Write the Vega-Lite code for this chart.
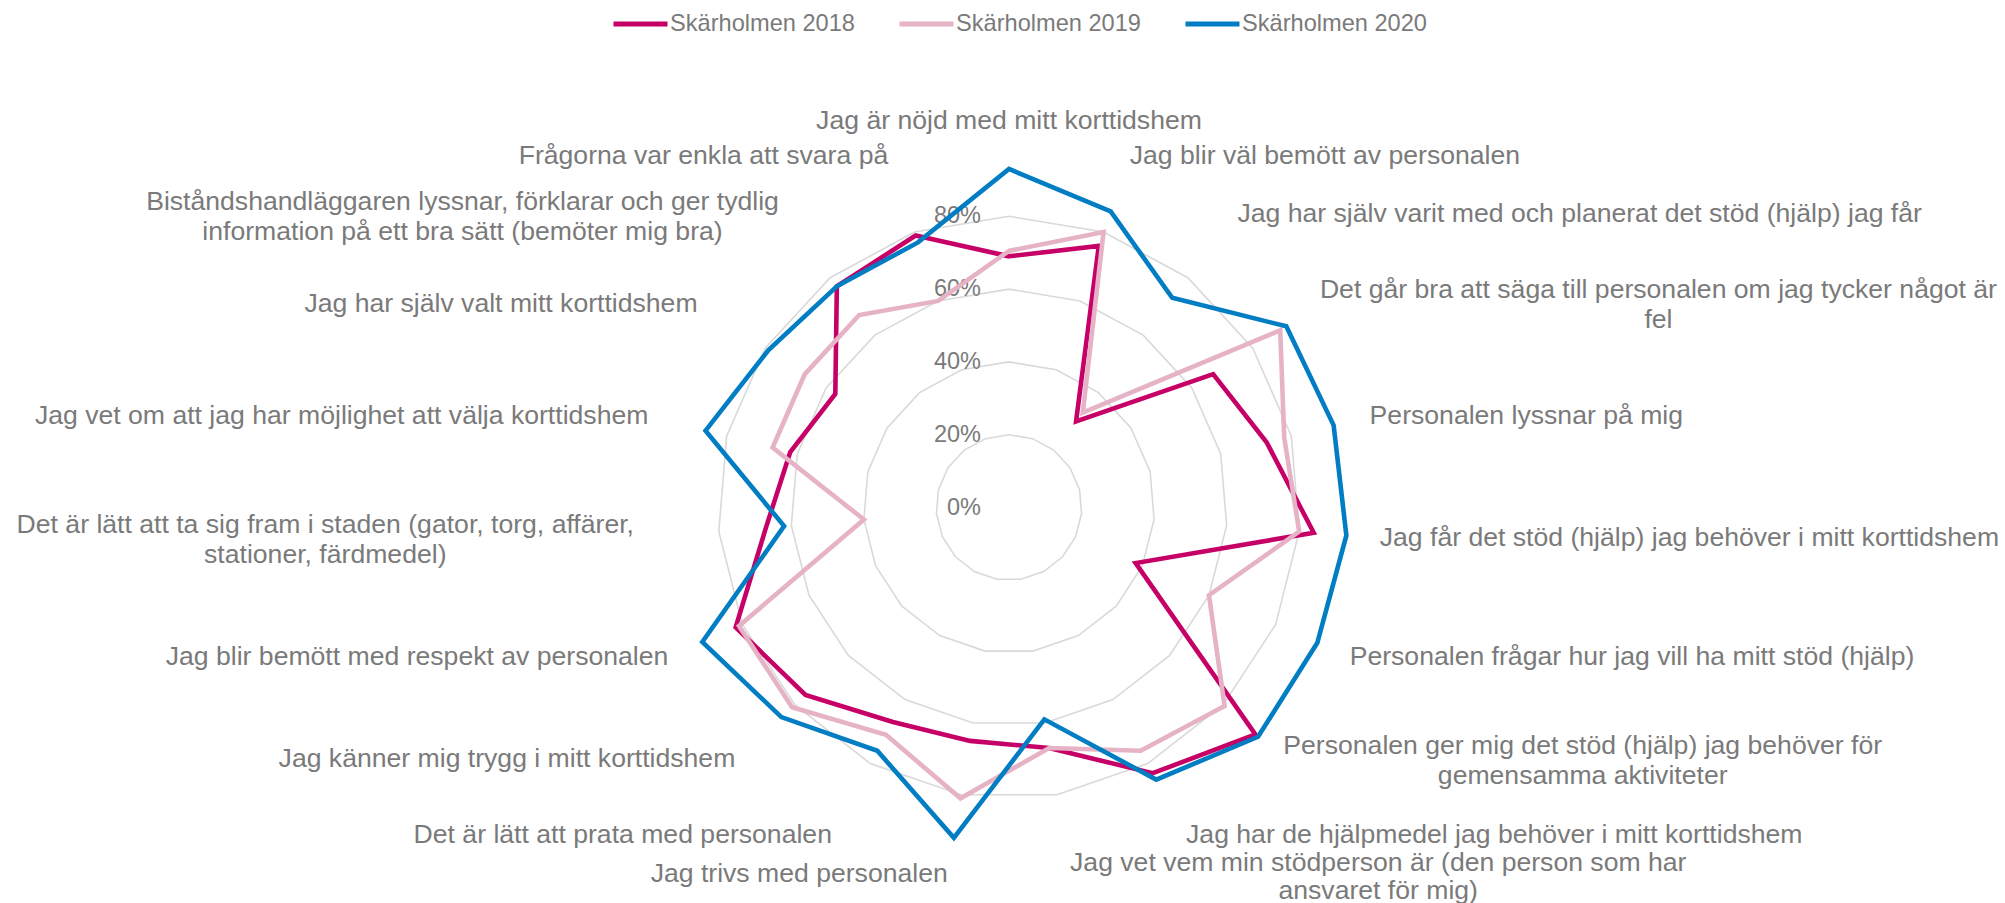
{
  "$schema": "https://vega.github.io/schema/vega-lite/v6.json",
  "width": 2005,
  "height": 903,
  "padding": 0,
  "autosize": {"type": "none"},
  "background": "white",
  "config": {"view": {"stroke": null}, "font": "Liberation Sans"},
  "datasets": {
    "scores": [
      {"k":0,"series":"Skärholmen 2018","value":69},{"k":1,"series":"Skärholmen 2018","value":76},{"k":2,"series":"Skärholmen 2018","value":30},{"k":3,"series":"Skärholmen 2018","value":67},{"k":4,"series":"Skärholmen 2018","value":73},{"k":5,"series":"Skärholmen 2018","value":84},{"k":6,"series":"Skärholmen 2018","value":38},{"k":7,"series":"Skärholmen 2018","value":92},{"k":8,"series":"Skärholmen 2018","value":83},{"k":9,"series":"Skärholmen 2018","value":67},{"k":10,"series":"Skärholmen 2018","value":65},{"k":11,"series":"Skärholmen 2018","value":67},{"k":12,"series":"Skärholmen 2018","value":76},{"k":13,"series":"Skärholmen 2018","value":82},{"k":14,"series":"Skärholmen 2018","value":67},{"k":15,"series":"Skärholmen 2018","value":62},{"k":16,"series":"Skärholmen 2018","value":57},{"k":17,"series":"Skärholmen 2018","value":77},{"k":18,"series":"Skärholmen 2018","value":79},
      {"k":0,"series":"Skärholmen 2019","value":70.5},{"k":1,"series":"Skärholmen 2019","value":80},{"k":2,"series":"Skärholmen 2019","value":33},{"k":3,"series":"Skärholmen 2019","value":89},{"k":4,"series":"Skärholmen 2019","value":78},{"k":5,"series":"Skärholmen 2019","value":80},{"k":6,"series":"Skärholmen 2019","value":60},{"k":7,"series":"Skärholmen 2019","value":80.5},{"k":8,"series":"Skärholmen 2019","value":76},{"k":9,"series":"Skärholmen 2019","value":67},{"k":10,"series":"Skärholmen 2019","value":81},{"k":11,"series":"Skärholmen 2019","value":71},{"k":12,"series":"Skärholmen 2019","value":81},{"k":13,"series":"Skärholmen 2019","value":81},{"k":14,"series":"Skärholmen 2019","value":40},{"k":15,"series":"Skärholmen 2019","value":67},{"k":16,"series":"Skärholmen 2019","value":67},{"k":17,"series":"Skärholmen 2019","value":67},{"k":18,"series":"Skärholmen 2019","value":60},
      {"k":0,"series":"Skärholmen 2020","value":93},{"k":1,"series":"Skärholmen 2020","value":86},{"k":2,"series":"Skärholmen 2020","value":73},{"k":3,"series":"Skärholmen 2020","value":91},{"k":4,"series":"Skärholmen 2020","value":92},{"k":5,"series":"Skärholmen 2020","value":93},{"k":6,"series":"Skärholmen 2020","value":92.5},{"k":7,"series":"Skärholmen 2020","value":93},{"k":8,"series":"Skärholmen 2020","value":85},{"k":9,"series":"Skärholmen 2020","value":59},{"k":10,"series":"Skärholmen 2020","value":92},{"k":11,"series":"Skärholmen 2020","value":76},{"k":12,"series":"Skärholmen 2020","value":85},{"k":13,"series":"Skärholmen 2020","value":92},{"k":14,"series":"Skärholmen 2020","value":62},{"k":15,"series":"Skärholmen 2020","value":86},{"k":16,"series":"Skärholmen 2020","value":79},{"k":17,"series":"Skärholmen 2020","value":77},{"k":18,"series":"Skärholmen 2020","value":77}
    ],
    "cats": [
      {"k":0,"label":"Jag är nöjd med mitt korttidshem"},
      {"k":1,"label":"Jag blir väl bemött av personalen"},
      {"k":2,"label":"Jag har själv varit med och planerat det stöd (hjälp) jag får"},
      {"k":3,"label":"Det går bra att säga till personalen om jag tycker något är\nfel"},
      {"k":4,"label":"Personalen lyssnar på mig"},
      {"k":5,"label":"Jag får det stöd (hjälp) jag behöver i mitt korttidshem"},
      {"k":6,"label":"Personalen frågar hur jag vill ha mitt stöd (hjälp)"},
      {"k":7,"label":"Personalen ger mig det stöd (hjälp) jag behöver för\ngemensamma aktiviteter"},
      {"k":8,"label":"Jag har de hjälpmedel jag behöver i mitt korttidshem"},
      {"k":9,"label":"Jag vet vem min stödperson är (den person som har\nansvaret för mig)"},
      {"k":10,"label":"Jag trivs med personalen"},
      {"k":11,"label":"Det är lätt att prata med personalen"},
      {"k":12,"label":"Jag känner mig trygg i mitt korttidshem"},
      {"k":13,"label":"Jag blir bemött med respekt av personalen"},
      {"k":14,"label":"Det är lätt att ta sig fram i staden (gator, torg, affärer,\nstationer, färdmedel)"},
      {"k":15,"label":"Jag vet om att jag har möjlighet att välja korttidshem"},
      {"k":16,"label":"Jag har själv valt mitt korttidshem"},
      {"k":17,"label":"Biståndshandläggaren lyssnar, förklarar och ger tydlig\ninformation på ett bra sätt (bemöter mig bra)"},
      {"k":18,"label":"Frågorna var enkla att svara på"}
    ],
    "grid": [
      {"ring":20,"k":0},{"ring":20,"k":1},{"ring":20,"k":2},{"ring":20,"k":3},{"ring":20,"k":4},{"ring":20,"k":5},{"ring":20,"k":6},{"ring":20,"k":7},{"ring":20,"k":8},{"ring":20,"k":9},{"ring":20,"k":10},{"ring":20,"k":11},{"ring":20,"k":12},{"ring":20,"k":13},{"ring":20,"k":14},{"ring":20,"k":15},{"ring":20,"k":16},{"ring":20,"k":17},{"ring":20,"k":18},
      {"ring":40,"k":0},{"ring":40,"k":1},{"ring":40,"k":2},{"ring":40,"k":3},{"ring":40,"k":4},{"ring":40,"k":5},{"ring":40,"k":6},{"ring":40,"k":7},{"ring":40,"k":8},{"ring":40,"k":9},{"ring":40,"k":10},{"ring":40,"k":11},{"ring":40,"k":12},{"ring":40,"k":13},{"ring":40,"k":14},{"ring":40,"k":15},{"ring":40,"k":16},{"ring":40,"k":17},{"ring":40,"k":18},
      {"ring":60,"k":0},{"ring":60,"k":1},{"ring":60,"k":2},{"ring":60,"k":3},{"ring":60,"k":4},{"ring":60,"k":5},{"ring":60,"k":6},{"ring":60,"k":7},{"ring":60,"k":8},{"ring":60,"k":9},{"ring":60,"k":10},{"ring":60,"k":11},{"ring":60,"k":12},{"ring":60,"k":13},{"ring":60,"k":14},{"ring":60,"k":15},{"ring":60,"k":16},{"ring":60,"k":17},{"ring":60,"k":18},
      {"ring":80,"k":0},{"ring":80,"k":1},{"ring":80,"k":2},{"ring":80,"k":3},{"ring":80,"k":4},{"ring":80,"k":5},{"ring":80,"k":6},{"ring":80,"k":7},{"ring":80,"k":8},{"ring":80,"k":9},{"ring":80,"k":10},{"ring":80,"k":11},{"ring":80,"k":12},{"ring":80,"k":13},{"ring":80,"k":14},{"ring":80,"k":15},{"ring":80,"k":16},{"ring":80,"k":17},{"ring":80,"k":18}
    ],
    "ticks": [
      {"ring":0,"text":"0%"},{"ring":20,"text":"20%"},{"ring":40,"text":"40%"},{"ring":60,"text":"60%"},{"ring":80,"text":"80%"}
    ]
  },
  "layer": [
    {
      "data": {"name": "grid"},
      "transform": [
        {"calculate": "datum.ring*sin(datum.k*2*PI/19)", "as": "x"},
        {"calculate": "datum.ring*cos(datum.k*2*PI/19)", "as": "y"}
      ],
      "mark": {"type": "line", "interpolate": "linear-closed", "stroke": "#d9d9d9", "strokeWidth": 1.6},
      "encoding": {
        "x": {"field": "x", "type": "quantitative", "scale": {"domain": [-277.2, 273.63], "nice": false, "zero": false}, "axis": null},
        "y": {"field": "y", "type": "quantitative", "scale": {"domain": [-108.65, 139.42], "nice": false, "zero": false}, "axis": null},
        "detail": {"field": "ring", "type": "nominal"},
        "order": {"field": "k", "type": "quantitative"}
      }
    },
    {
      "data": {"name": "ticks"},
      "mark": {"type": "text", "align": "right", "baseline": "middle", "dx": -28, "fontSize": 23.5, "fill": "#7a7a7a", "font": "Liberation Sans"},
      "encoding": {
        "x": {"datum": 0, "type": "quantitative", "scale": {"domain": [-277.2, 273.63], "nice": false, "zero": false}, "axis": null},
        "y": {"field": "ring", "type": "quantitative", "scale": {"domain": [-108.65, 139.42], "nice": false, "zero": false}, "axis": null},
        "text": {"field": "text"}
      }
    },
    {
      "data": {"name": "scores"},
      "transform": [
        {"calculate": "datum.value*sin(datum.k*2*PI/19)", "as": "x"},
        {"calculate": "datum.value*cos(datum.k*2*PI/19)", "as": "y"}
      ],
      "mark": {"type": "line", "interpolate": "linear-closed", "strokeWidth": 4.6},
      "encoding": {
        "x": {"field": "x", "type": "quantitative", "scale": {"domain": [-277.2, 273.63], "nice": false, "zero": false}, "axis": null},
        "y": {"field": "y", "type": "quantitative", "scale": {"domain": [-108.65, 139.42], "nice": false, "zero": false}, "axis": null},
        "order": {"field": "k", "type": "quantitative"},
        "color": {
          "field": "series", "type": "nominal",
          "scale": {"domain": ["Skärholmen 2018", "Skärholmen 2019", "Skärholmen 2020"], "range": ["#c60066", "#e6b2c5", "#007dc3"]},
          "legend": {
            "orient": "none", "legendX": 611, "legendY": -6, "direction": "horizontal", "title": null,
            "symbolType": "stroke", "symbolSize": 2916, "symbolStrokeWidth": 5,
            "labelFontSize": 23.6, "labelFont": "Liberation Sans", "labelColor": "#7a7a7a", "labelLimit": 0,
            "labelOffset": 0, "columnPadding": 34, "padding": 0
          }
        }
      }
    },
    {
      "data": {"name": "cats"},
      "transform": [
        {"filter": "datum.k == 0"},
        {"calculate": "102.2*sin(datum.k*2*PI/19)", "as": "lx"},
        {"calculate": "102.2*cos(datum.k*2*PI/19)", "as": "ly"}
      ],
      "mark": {"type": "text", "align": "center", "baseline": "bottom", "fontSize": 26.6, "fill": "#7a7a7a", "font": "Liberation Sans", "lineBreak": "\n", "lineHeight": 30},
      "encoding": {
        "x": {"field": "lx", "type": "quantitative", "scale": {"domain": [-277.2, 273.63], "nice": false, "zero": false}, "axis": null},
        "y": {"field": "ly", "type": "quantitative", "scale": {"domain": [-108.65, 139.42], "nice": false, "zero": false}, "axis": null},
        "text": {"field": "label"}
      }
    },
    {
      "data": {"name": "cats"},
      "transform": [
        {"filter": "indexof([1,2,4,5,6,8], datum.k) >= 0"},
        {"calculate": "102.2*sin(datum.k*2*PI/19)", "as": "lx"},
        {"calculate": "102.2*cos(datum.k*2*PI/19)", "as": "ly"}
      ],
      "mark": {"type": "text", "align": "left", "baseline": "middle", "fontSize": 26.6, "fill": "#7a7a7a", "font": "Liberation Sans", "lineBreak": "\n", "lineHeight": 30},
      "encoding": {
        "x": {"field": "lx", "type": "quantitative", "scale": {"domain": [-277.2, 273.63], "nice": false, "zero": false}, "axis": null},
        "y": {"field": "ly", "type": "quantitative", "scale": {"domain": [-108.65, 139.42], "nice": false, "zero": false}, "axis": null},
        "text": {"field": "label"}
      }
    },
    {
      "data": {"name": "cats"},
      "transform": [
        {"filter": "indexof([10,11,12,13,15,16,18], datum.k) >= 0"},
        {"calculate": "102.2*sin(datum.k*2*PI/19)", "as": "lx"},
        {"calculate": "102.2*cos(datum.k*2*PI/19)", "as": "ly"}
      ],
      "mark": {"type": "text", "align": "right", "baseline": "middle", "fontSize": 26.6, "fill": "#7a7a7a", "font": "Liberation Sans", "lineBreak": "\n", "lineHeight": 30},
      "encoding": {
        "x": {"field": "lx", "type": "quantitative", "scale": {"domain": [-277.2, 273.63], "nice": false, "zero": false}, "axis": null},
        "y": {"field": "ly", "type": "quantitative", "scale": {"domain": [-108.65, 139.42], "nice": false, "zero": false}, "axis": null},
        "text": {"field": "label"}
      }
    },
    {
      "data": {"name": "cats"},
      "transform": [
        {"filter": "datum.k == 3"},
        {"calculate": "102.2*sin(datum.k*2*PI/19)", "as": "lx"},
        {"calculate": "102.2*cos(datum.k*2*PI/19)", "as": "ly"}
      ],
      "mark": {"type": "text", "align": "center", "baseline": "middle", "dx": 338, "dy": -14, "fontSize": 26.6, "fill": "#7a7a7a", "font": "Liberation Sans", "lineBreak": "\n", "lineHeight": 30},
      "encoding": {
        "x": {"field": "lx", "type": "quantitative", "scale": {"domain": [-277.2, 273.63], "nice": false, "zero": false}, "axis": null},
        "y": {"field": "ly", "type": "quantitative", "scale": {"domain": [-108.65, 139.42], "nice": false, "zero": false}, "axis": null},
        "text": {"field": "label"}
      }
    },
    {
      "data": {"name": "cats"},
      "transform": [
        {"filter": "datum.k == 7"},
        {"calculate": "102.2*sin(datum.k*2*PI/19)", "as": "lx"},
        {"calculate": "102.2*cos(datum.k*2*PI/19)", "as": "ly"}
      ],
      "mark": {"type": "text", "align": "center", "baseline": "middle", "dx": 300, "dy": -13, "fontSize": 26.6, "fill": "#7a7a7a", "font": "Liberation Sans", "lineBreak": "\n", "lineHeight": 30},
      "encoding": {
        "x": {"field": "lx", "type": "quantitative", "scale": {"domain": [-277.2, 273.63], "nice": false, "zero": false}, "axis": null},
        "y": {"field": "ly", "type": "quantitative", "scale": {"domain": [-108.65, 139.42], "nice": false, "zero": false}, "axis": null},
        "text": {"field": "label"}
      }
    },
    {
      "data": {"name": "cats"},
      "transform": [
        {"filter": "datum.k == 9"},
        {"calculate": "102.2*sin(datum.k*2*PI/19)", "as": "lx"},
        {"calculate": "102.2*cos(datum.k*2*PI/19)", "as": "ly"}
      ],
      "mark": {"type": "text", "align": "center", "baseline": "middle", "dx": 308, "dy": -11, "fontSize": 26.6, "fill": "#7a7a7a", "font": "Liberation Sans", "lineBreak": "\n", "lineHeight": 28},
      "encoding": {
        "x": {"field": "lx", "type": "quantitative", "scale": {"domain": [-277.2, 273.63], "nice": false, "zero": false}, "axis": null},
        "y": {"field": "ly", "type": "quantitative", "scale": {"domain": [-108.65, 139.42], "nice": false, "zero": false}, "axis": null},
        "text": {"field": "label"}
      }
    },
    {
      "data": {"name": "cats"},
      "transform": [
        {"filter": "datum.k == 14"},
        {"calculate": "102.2*sin(datum.k*2*PI/19)", "as": "lx"},
        {"calculate": "102.2*cos(datum.k*2*PI/19)", "as": "ly"}
      ],
      "mark": {"type": "text", "align": "center", "baseline": "middle", "dx": -313, "dy": -13, "fontSize": 26.6, "fill": "#7a7a7a", "font": "Liberation Sans", "lineBreak": "\n", "lineHeight": 30},
      "encoding": {
        "x": {"field": "lx", "type": "quantitative", "scale": {"domain": [-277.2, 273.63], "nice": false, "zero": false}, "axis": null},
        "y": {"field": "ly", "type": "quantitative", "scale": {"domain": [-108.65, 139.42], "nice": false, "zero": false}, "axis": null},
        "text": {"field": "label"}
      }
    },
    {
      "data": {"name": "cats"},
      "transform": [
        {"filter": "datum.k == 17"},
        {"calculate": "102.2*sin(datum.k*2*PI/19)", "as": "lx"},
        {"calculate": "102.2*cos(datum.k*2*PI/19)", "as": "ly"}
      ],
      "mark": {"type": "text", "align": "center", "baseline": "middle", "dx": -318, "dy": -12, "fontSize": 26.6, "fill": "#7a7a7a", "font": "Liberation Sans", "lineBreak": "\n", "lineHeight": 30},
      "encoding": {
        "x": {"field": "lx", "type": "quantitative", "scale": {"domain": [-277.2, 273.63], "nice": false, "zero": false}, "axis": null},
        "y": {"field": "ly", "type": "quantitative", "scale": {"domain": [-108.65, 139.42], "nice": false, "zero": false}, "axis": null},
        "text": {"field": "label"}
      }
    }
  ]
}
